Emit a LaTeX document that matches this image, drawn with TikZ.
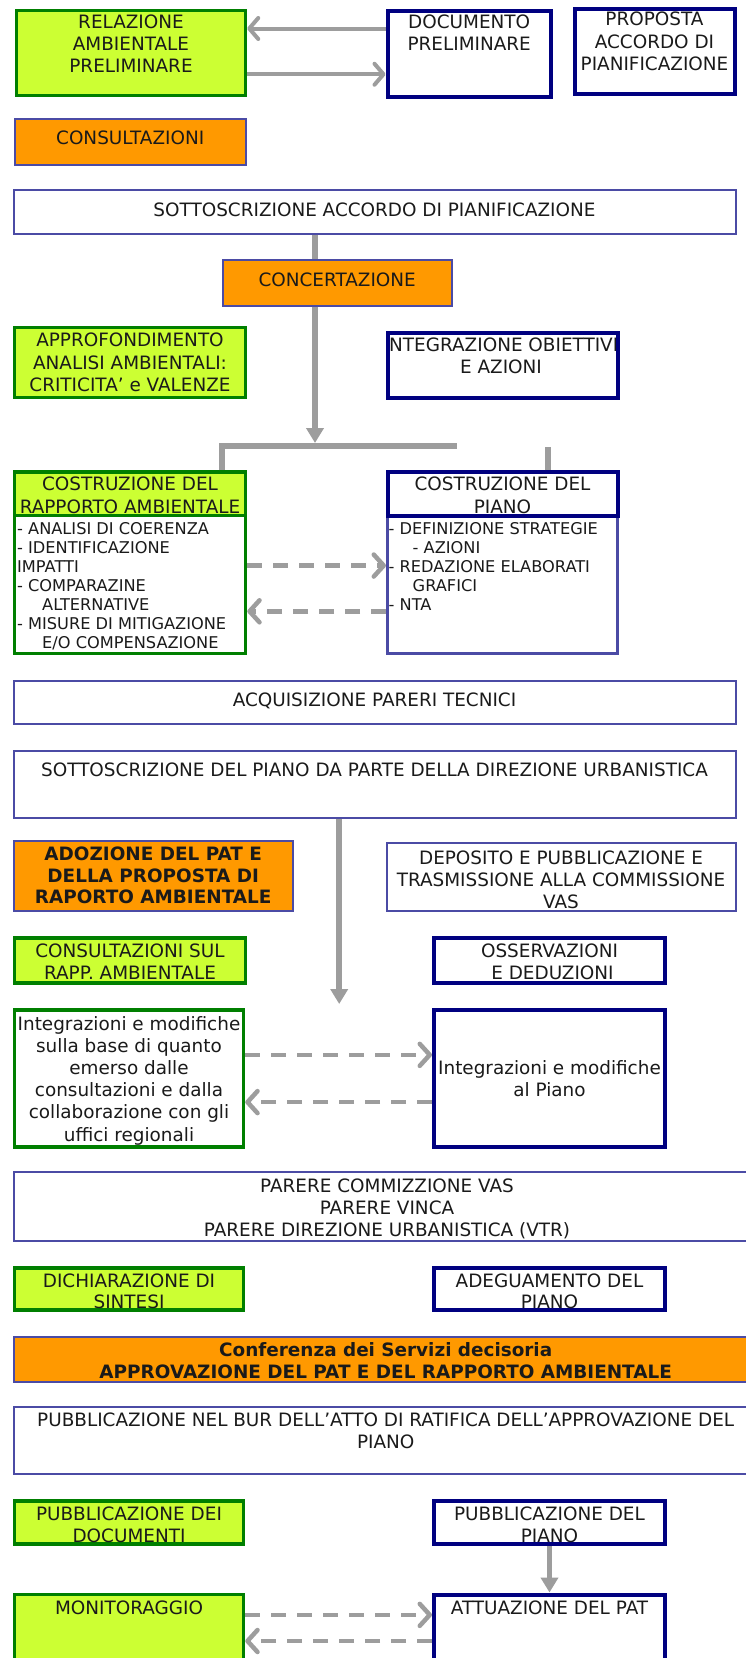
\documentclass[tikz,border=0pt]{standalone}
\usepackage{fontspec}
\setmainfont{DejaVu Sans}
\usetikzlibrary{arrows.meta,fit}
\definecolor{limeg}{HTML}{CCFF33}
\definecolor{grn}{HTML}{007F00}
\definecolor{navyb}{HTML}{000080}
\definecolor{thinb}{HTML}{4B4BA5}
\definecolor{orng}{HTML}{FF9900}
\definecolor{arrg}{HTML}{9D9D9D}
\definecolor{txtc}{HTML}{1A1A1A}
\begin{document}
\begin{tikzpicture}[x=1pt,y=-1pt,
  gbox/.style={draw=grn, fill=limeg, line width=3.5pt, inner sep=0pt},
  gwbox/.style={draw=grn, fill=white, line width=3.5pt, inner sep=0pt},
  nbox/.style={draw=navyb, fill=white, line width=4pt, inner sep=0pt},
  obox/.style={draw=thinb, fill=orng, line width=2pt, inner sep=0pt},
  wbox/.style={draw=thinb, fill=white, line width=2pt, inner sep=0pt},
  tx/.style={inner sep=0pt, align=center, text=txtc, anchor=north, font=\fontsize{18.4}{22.2}\selectfont},
  txb/.style={tx, font=\fontsize{18.4}{21.5}\selectfont\bfseries},
  txs/.style={inner sep=0pt, align=left, text=txtc, anchor=north west, font=\fontsize{16.2}{18.9}\selectfont},
  solidarr/.style={draw=arrg, line width=4pt, -{Straight Barb[length=9pt,width=21pt,round]}},
  dasharr/.style={draw=arrg, line width=4.5pt, dash pattern=on 15pt off 11pt, -{Straight Barb[length=10pt,width=22pt,round]}},
  thickline/.style={draw=arrg, line width=6pt},
  downarr/.style={draw=arrg, line width=6pt, -{Triangle[length=15pt,width=17pt]}}
]
\useasboundingbox[fill=white] (0,0) rectangle (746,1658);

% ---- top row
\node[gbox, fit={(16.5,10.5) (245.5,95.5)}] (rel) {};
\node[tx] (relT) at (131,14.2) {RELAZIONE\\AMBIENTALE\\PRELIMINARE};
\node[nbox, fit={(387.5,10.5) (551,96.5)}] (doc) {};
\node[tx] (docT) at (469.2,14.2) {DOCUMENTO\\PRELIMINARE};
\node[nbox, fit={(574.5,8.5) (734.5,93.5)}] (prop) {};
\node[tx] (propT) at (654.5,12.1) {PROPOSTA\\ACCORDO DI\\PIANIFICAZIONE};

\draw[solidarr] ([yshift=-20pt]doc.north west) -- ([yshift=-20pt]doc.north west -| rel.east);
\draw[solidarr] ([yshift=-65.5pt]rel.north east) -- ([yshift=-65.5pt]rel.north east -| doc.west);

\node[obox, fit={(14.5,118.5) (246,165)}] (cons) {};
\node[tx] (consT) at (130.2,130.5) {CONSULTAZIONI};

\node[wbox, fit={(13.5,190) (735.5,233.5)}] (sott1) {};
\node[tx] (sott1T) at (374.5,202.3) {SOTTOSCRIZIONE ACCORDO DI PIANIFICAZIONE};

\node[obox, fit={(223,260) (451.5,305.5)}] (conc) {};
\node[tx] (concT) at (337.2,273.1) {CONCERTAZIONE};

% ---- split connector points
\coordinate (barL) at (222,446);
\coordinate (barR) at (456.5,446);
\coordinate (barT) at (315,443);
\coordinate (stub) at (547.5,447);

\draw[thickline] (conc.north -| barT) -- (sott1.south -| barT);

\node[gbox, fit={(14.5,327.5) (245.5,397.5)}] (appr) {};
\node[tx] (apprT) at (130,333.1) {APPROFONDIMENTO\\ANALISI AMBIENTALI:\\CRITICITA’ e VALENZE};

\node[nbox, fit={(387.5,332.5) (617.5,397.5)}] (integ) {};
\begin{scope}
\clip (389.5,334.5) rectangle (615.5,395.5);
\node[tx] (integT) at (501,337.6) {INTEGRAZIONE OBIETTIVI\\E AZIONI};
\end{scope}

% ---- costruzione boxes
\node[gwbox, fit={(14.5,472) (245.5,653.5)}] (cra) {};
\node[gbox, fit={(14.5,472) (245.5,515.7)}] (craH) {};
\node[tx] (craT) at (130,477) {COSTRUZIONE DEL\\RAPPORTO AMBIENTALE};
\node[txs] (craB) at (17,522.4) {- ANALISI DI COERENZA\\- IDENTIFICAZIONE\\IMPATTI\\- COMPARAZINE\\\hspace*{25pt}ALTERNATIVE\\- MISURE DI MITIGAZIONE\\\hspace*{25pt}E/O COMPENSAZIONE};

\node[draw=thinb, fill=white, line width=3pt, inner sep=0pt, fit={(387.5,472) (617.5,653.5)}] (cpi) {};
\node[nbox, fit={(387.5,472) (617.5,515.7)}] (cpiH) {};
\node[tx] (cpiT) at (502.5,477) {COSTRUZIONE DEL\\PIANO};
\node[txs] (cpiB) at (388.5,522.4) {- DEFINIZIONE STRATEGIE\\\hspace*{24pt}- AZIONI\\- REDAZIONE ELABORATI\\\hspace*{24pt}GRAFICI\\- NTA};

\draw[downarr] (conc.south -| barT) -- (barT);
\draw[thickline] (craH.north -| barL) -- (barL) -- (barR);
\draw[thickline] (cpiH.north -| stub) -- (stub);

\draw[dasharr] ([yshift=-95.3pt]cra.north east) -- ([yshift=-95.3pt]cra.north east -| cpi.west);
\draw[dasharr] ([yshift=-140.8pt]cpi.north west) -- ([yshift=-140.8pt]cpi.north west -| cra.east);

% ---- middle
\node[wbox, fit={(13.5,680.5) (735.5,724)}] (acq) {};
\node[tx] (acqT) at (374.5,692.6) {ACQUISIZIONE PARERI TECNICI};
\node[wbox, fit={(13.5,751) (735.5,818)}] (sott2) {};
\node[tx] (sott2T) at (374.5,762.4) {SOTTOSCRIZIONE DEL PIANO DA PARTE DELLA DIREZIONE URBANISTICA};

\node[obox, fit={(13.5,841) (293,911)}] (adoz) {};
\node[txb] (adozT) at (153.2,846.9) {ADOZIONE DEL PAT E\\DELLA PROPOSTA DI\\RAPORTO AMBIENTALE};
\node[wbox, fit={(386.5,843) (735.5,911)}] (depo) {};
\node[tx, font=\fontsize{18.4}{21.7}\selectfont] (depoT) at (561,851.1) {DEPOSITO E PUBBLICAZIONE E\\TRASMISSIONE ALLA COMMISSIONE\\VAS};

\coordinate (a2) at (339.2,1004);
\draw[downarr] (sott2.south -| a2) -- (a2);

\node[gbox, fit={(14.5,938) (245.5,983)}] (csul) {};
\node[tx, font=\fontsize{18.4}{21.2}\selectfont] (csulT) at (130,944.1) {CONSULTAZIONI SUL\\RAPP. AMBIENTALE};
\node[nbox, fit={(434,938) (665,983)}] (osse) {};
\node[tx, font=\fontsize{18.4}{21.2}\selectfont] (osseT) at (549.5,944.1) {OSSERVAZIONI\\\hspace*{6pt}E DEDUZIONI};

\node[gwbox, fit={(14.5,1010) (243.5,1147)}] (intl) {};
\node[tx] (intlT) at (129,1016) {Integrazioni e modifiche\\sulla base di quanto\\emerso dalle\\consultazioni e dalla\\collaborazione con gli\\uffici regionali};
\node[nbox, fit={(434,1010) (665,1147)}] (intr) {};
\node[tx] (intrT) at (549.5,1060.3) {Integrazioni e modifiche\\al Piano};

\draw[dasharr] ([yshift=-46.6pt]intl.north east) -- ([yshift=-46.6pt]intl.north east -| intr.west);
\draw[dasharr] ([yshift=-94.1pt]intr.north west) -- ([yshift=-94.1pt]intr.north west -| intl.east);

% ---- lower
\node[wbox, fit={(13.5,1171.5) (765,1240.5)}] (parere) {};
\node[tx] (parereT) at (387,1178.7) {PARERE COMMIZZIONE VAS\\PARERE VINCA\\PARERE DIREZIONE URBANISTICA (VTR)};

\node[gbox, fit={(14.5,1268) (243.5,1310)}] (dich) {};
\node[tx, font=\fontsize{18.4}{21.2}\selectfont] (dichT) at (129,1273.8) {DICHIARAZIONE DI\\SINTESI};
\node[nbox, fit={(434,1268) (665,1310)}] (adeg) {};
\node[tx, font=\fontsize{18.4}{21.2}\selectfont] (adegT) at (549.5,1273.8) {ADEGUAMENTO DEL\\PIANO};

\node[obox, fit={(13.5,1336.5) (765,1381.5)}] (conf) {};
\node[txb, font=\fontsize{18.4}{22.2}\selectfont\bfseries] (confT) at (385.7,1342.5) {Conferenza dei Servizi decisoria\\APPROVAZIONE DEL PAT E DEL RAPPORTO AMBIENTALE};

\node[wbox, fit={(13.5,1406.5) (765,1474)}] (bur) {};
\node[tx] (burT) at (385.7,1412.2) {PUBBLICAZIONE NEL BUR DELL’ATTO DI RATIFICA DELL’APPROVAZIONE DEL\\PIANO};

\node[gbox, fit={(14.5,1501) (243.5,1544)}] (pdoc) {};
\node[tx] (pdocT) at (129,1506.3) {PUBBLICAZIONE DEI\\DOCUMENTI};
\node[nbox, fit={(434,1501) (665,1544)}] (ppia) {};
\node[tx] (ppiaT) at (549.5,1506.3) {PUBBLICAZIONE DEL\\PIANO};

\node[gbox, fit={(14.5,1594.5) (243.5,1700)}] (moni) {};
\node[tx] (moniT) at (129,1600.3) {MONITORAGGIO};
\node[nbox, fit={(434,1594.5) (665,1700)}] (attu) {};
\node[tx] (attuT) at (549.5,1600.3) {ATTUAZIONE DEL PAT};

\draw[downarr, line width=5pt] (ppia.south) -- (attu.north);
\draw[dasharr] ([yshift=-22.1pt]moni.north east) -- ([yshift=-22.1pt]moni.north east -| attu.west);
\draw[dasharr] ([yshift=-48.5pt]attu.north west) -- ([yshift=-48.5pt]attu.north west -| moni.east);
\end{tikzpicture}
\end{document}
